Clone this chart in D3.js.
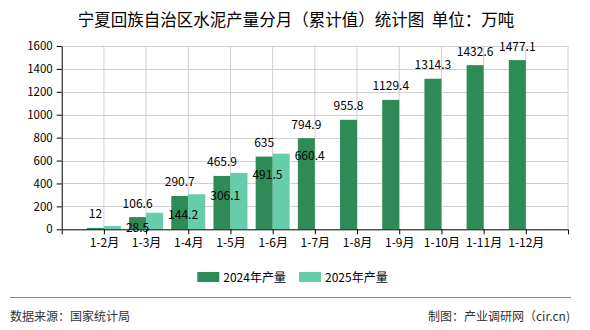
<!DOCTYPE html>
<html>
<head>
<meta charset="utf-8">
<script src="https://cdn.jsdelivr.net/npm/d3@7/dist/d3.min.js"></script>
<style>
  html, body { margin: 0; padding: 0; background: #fff; }
  svg { display: block; }
  text { font-family: "Noto Sans CJK SC", "DejaVu Sans", sans-serif; }
</style>
</head>
<body>
<svg id="chart" width="590" height="330"></svg>
<script>
const categories = ["1-2月","1-3月","1-4月","1-5月","1-6月","1-7月","1-8月","1-9月","1-10月","1-11月","1-12月"];
const seriesNames = ["2024年产量","2025年产量"];
const values2024 = [12,106.6,290.7,465.9,635,794.9,955.8,1129.4,1314.3,1432.6,1477.1];
const values2025 = [28.5,144.2,306.1,491.5,660.4];
const yTicks = [0,200,400,600,800,1000,1200,1400,1600];
const colors = ["#2e8b57","#66cdaa"];
const titleText = "宁夏回族自治区水泥产量分月（累计值）统计图  单位：万吨";
const sourceText = "数据来源：国家统计局";
const makerText = "制图：产业调研网（cir.cn)";

const svg = d3.select("#chart");
const pLeft = 61.7, pRight = 568, pTop = 46, pBottom = 229.3;

const x = d3.scalePoint().domain(categories).range([pLeft, pRight]).padding(1);
const y = d3.scaleLinear().domain([0, 1600]).range([pBottom, pTop]);
const xs = d3.scaleBand().domain(seriesNames).range([-17, 17]);

// title
svg.append("text").attr("x", 296).attr("y", 26).attr("text-anchor", "middle")
  .attr("font-size", 16.5).attr("fill", "#000").style("white-space", "pre").text(titleText);

// grid
const g = svg.append("g");
g.selectAll("line.h").data(yTicks.filter(d => d > 0)).join("line")
  .attr("x1", pLeft).attr("x2", pRight)
  .attr("y1", d => Math.round(y(d)) + 0.5).attr("y2", d => Math.round(y(d)) + 0.5)
  .attr("stroke", "#d0d0d0");
g.selectAll("line.v").data(categories.concat(["__end"])).join("line")
  .attr("x1", d => d === "__end" ? pRight : x(d)).attr("x2", d => d === "__end" ? pRight : x(d))
  .attr("y1", pTop).attr("y2", pBottom)
  .attr("stroke", "#d0d0d0");

// bars
const data = [];
categories.forEach((c, i) => {
  if (values2024[i] != null) data.push({c, s: seriesNames[0], v: values2024[i], k: 0});
  if (values2025[i] != null) data.push({c, s: seriesNames[1], v: values2025[i], k: 1});
});
svg.append("g").selectAll("rect").data(data).join("rect")
  .attr("x", d => x(d.c) + xs(d.s))
  .attr("width", xs.bandwidth())
  .attr("y", d => y(d.v))
  .attr("height", d => pBottom - y(d.v))
  .attr("fill", d => colors[d.k]);

// labels
const lab = svg.append("g").attr("font-size", 12).attr("fill", "#000");
lab.selectAll("text.a").data(data.filter(d => d.k === 0)).join("text")
  .attr("x", d => x(d.c) + xs(d.s) + xs.bandwidth() / 2)
  .attr("y", d => y(d.v) - 9.5)
  .attr("text-anchor", "middle")
  .text(d => d.v);
lab.selectAll("text.b").data(data.filter(d => d.k === 1)).join("text")
  .attr("x", d => x(d.c) + xs(d.s) + xs.bandwidth() + 5)
  .attr("y", d => y(d.v) + 6)
  .attr("text-anchor", "start")
  .text(d => d.v);

// axes
const yAxis = svg.append("g").attr("transform", `translate(${pLeft},0)`)
  .call(d3.axisLeft(y).tickValues(yTicks).tickFormat(d3.format("d")).tickSize(5).tickSizeOuter(0).tickPadding(4));
yAxis.selectAll("text").attr("font-size", 11.5).attr("fill", "#000");
yAxis.selectAll("line,path").attr("stroke", "#000");

const xAxis = svg.append("g").attr("transform", `translate(0,${pBottom})`)
  .call(d3.axisBottom(x).tickSize(5).tickSizeOuter(5).tickPadding(4));
xAxis.selectAll("text").attr("font-size", 12).attr("fill", "#000");
xAxis.selectAll("line,path").attr("stroke", "#000");

// legend
const lg = svg.append("g");
const legendX = [197.3, 299];
seriesNames.forEach((s, i) => {
  lg.append("rect").attr("x", legendX[i]).attr("y", 272).attr("width", 22).attr("height", 10).attr("fill", colors[i]);
  lg.append("text").attr("x", legendX[i] + 26).attr("y", 281.5).attr("font-size", 12).attr("fill", "#000").text(s);
});

// footer
svg.append("line").attr("x1", 10).attr("x2", 571).attr("y1", 297.5).attr("y2", 297.5).attr("stroke", "#888");
svg.append("text").attr("x", 10).attr("y", 320.5).attr("font-size", 12).attr("fill", "#333").text(sourceText);
svg.append("text").attr("x", 570).attr("y", 320.5).attr("font-size", 12).attr("fill", "#333").attr("text-anchor", "end").text(makerText);
</script>
</body>
</html>
